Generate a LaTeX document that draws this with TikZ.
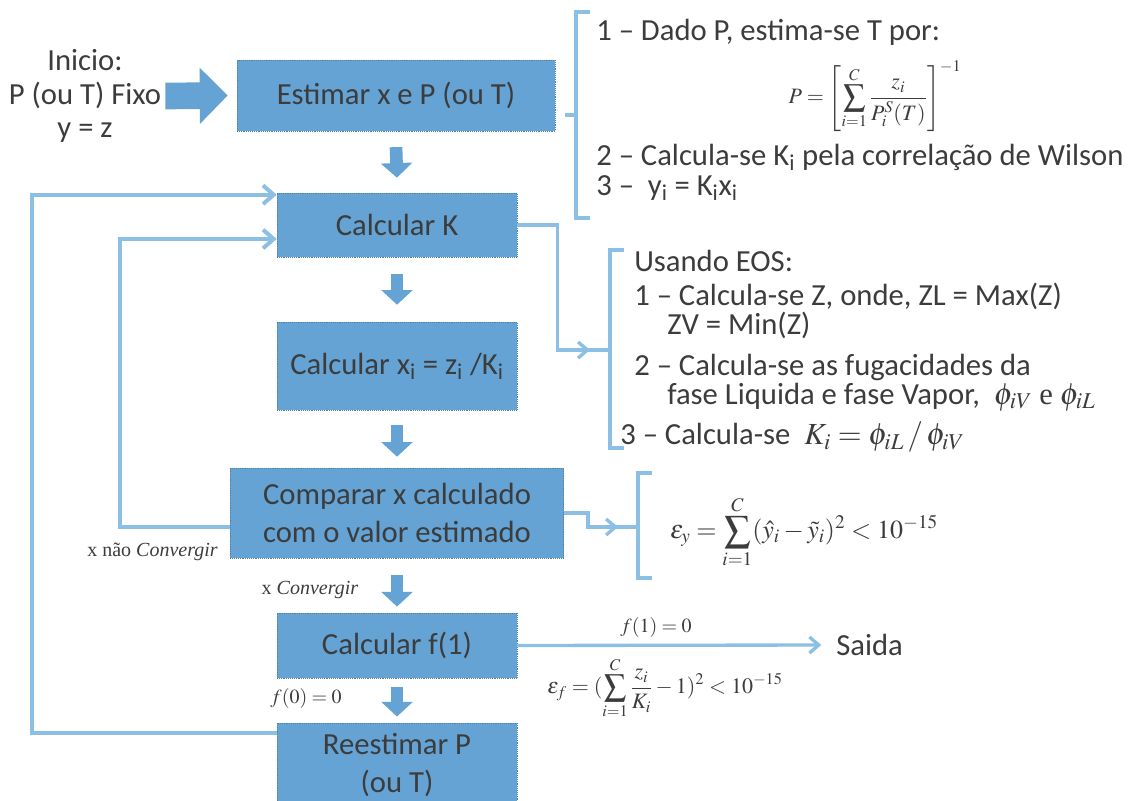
\documentclass[tikz,border=0pt]{standalone}
\usepackage{amsmath, amssymb}
\usepackage{mathptmx}
\usepackage[no-math]{fontspec}
\setmainfont{Carlito}
\newfontfamily\tnr{Liberation Serif}
\usepackage{xcolor}
\usetikzlibrary{arrows.meta,positioning,calc}

\definecolor{boxblue}{HTML}{64A3D3}
\definecolor{lineblue}{HTML}{8BC0E4}
\definecolor{txtgray}{HTML}{3C3C3C}

\tikzset{
  box/.style={rectangle, fill=boxblue, draw=boxblue!80!black, densely dotted, line width=0.4pt,
    text=txtgray, align=center, inner sep=0pt, font=\fontsize{23}{28.5}\selectfont},
  bigarr/.style={draw=boxblue, line width=20pt, -{Triangle[length=21pt,width=41pt]}},
  downarr/.style={draw=boxblue, line width=9.5pt, -{Triangle[length=11pt,width=23pt]}},
  loopline/.style={draw=lineblue, line width=3pt, -{Straight Barb[length=8pt,width=14pt]}},
  lnk/.style={draw=lineblue, line width=2.5pt, -{Straight Barb[length=7pt,width=12pt]}},
  brk/.style={draw=lineblue, line width=2.5pt},
  item/.style={anchor=west, inner sep=0pt},
  note/.style={font=\tnr\fontsize{15}{17}\selectfont, inner sep=0pt}
}

\begin{document}
\begin{tikzpicture}[x=0.75pt, y=-0.75pt, font=\fontsize{23}{25}\selectfont, text=txtgray]
\useasboundingbox (0,0) rectangle (1128,800);

\node[box, minimum width=238.5pt, minimum height=53pt] (est) at (396,95.5) {Estimar x e P (ou T)};
\node[box, minimum width=180pt, minimum height=48pt] (calk) at (397,225) {Calcular K};
\node[box, minimum width=180pt, minimum height=66pt] (calx) at (397,366) {Calcular x\textsubscript{i} = z\textsubscript{i} /K\textsubscript{i}};
\node[box, minimum width=250pt, minimum height=67.5pt] (comp) at (397,513) {Comparar x calculado\\com o valor estimado};
\node[box, minimum width=180pt, minimum height=49pt] (calf) at (397,645.5) {Calcular f(1)};
\node[box, minimum width=180pt, minimum height=64pt] (rees) at (397,765.5) {Reestimar P\\(ou T)};

\node[align=center, inner sep=0pt] (ini) at (85,96) {Inicio:\\P (ou T) Fixo\\y = z};
\draw[bigarr] ([xshift=3pt]ini.east) -- ([xshift=-6.75pt]est.west);

\foreach \a/\b/\s/\e in {est/calk/16/15, calk/calx/17/17, calx/comp/15/11, comp/calf/17/6, calf/rees/9/6}
  \draw[downarr] ($(\a.south)+(0,\s)$) -- ($(\b.north)+(0,-\e)$);

\draw[loopline] ($(rees.north west)+(0,10)$) -- ++(-245,0) |- ($(calk.north west)+(0,2)$);
\draw[loopline] ($(comp.west)+(0,14)$) -- ++(-110,0) |- ($(calk.west)+(0,14)$);

\node[note, anchor=east] (nconv) at (218,552) {x não \textit{Convergir}};
\node[note] (conv) at (310,590) {x \textit{Convergir}};
\node[note] (f0) at (306,698) {$f(0)=0$};

\draw[brk] (590,12) -- (576,12) -- (576,218) -- (590,218) (576,115) -- (565,115);
\node[item] (t11) at (596,32) {1 – Dado P, estima-se T por:};
\node[inner sep=0pt] (t12) at (875,96) {\fontsize{16.5}{19}\selectfont $\displaystyle P=\left[\sum_{i=1}^{C}\frac{z_i}{P_i^S(T)}\right]^{-1}$};
\node[item] (t13) at (596,157) {2 – Calcula-se K\textsubscript{i} pela correlação de Wilson};
\node[item] (t14) at (596,188) {3 –\ \ y\textsubscript{i} = K\textsubscript{i}x\textsubscript{i}};

\coordinate (b2) at (610,350);
\draw[brk] (624,250) -- (610,250) -- (610,448) -- (624,448);
\draw[lnk] (calk.east) -- ++(40,0) |- ($(b2)+(-20,0)$);
\draw[brk] ($(b2)+(-22,0)$) -- (b2);
\node[item] (t21) at (634,261) {Usando EOS:};
\node[item] (t22) at (634,296) {1 – Calcula-se Z, onde, ZL = Max(Z)};
\node[item] (t23) at (667,325) {ZV = Min(Z)};
\node[item] (t24) at (634,367) {2 – Calcula-se as fugacidades da};
\node[item] (t25) at (667,397) {fase Liquida e fase Vapor,\ \ $\phi_{iV}$ {\tnr e} $\phi_{iL}$};
\node[item] (t26) at (620,437) {3 – Calcula-se\ \ $K_i=\phi_{iL}\,/\,\phi_{iV}$};

\coordinate (b3) at (638,527);
\draw[brk] (652,473) -- (638,473) -- (638,578) -- (652,578);
\draw[lnk] (comp.east) -- ++(24,0) |- ($(b3)+(-20,0)$);
\draw[brk] ($(b3)+(-22,0)$) -- (b3);
\node[inner sep=0pt] (ey) at (804,532) {\fontsize{19.5}{23}\selectfont $\displaystyle \varepsilon_y=\sum_{i=1}^{C}(\hat{y}_i-\tilde{y}_i)^2<10^{-15}$};

\node[item] (said) at (836,645) {Saida};
\draw[lnk] (calf.east) -- ([xshift=-11pt]said.west);
\node[note] (f1) at (656,627) {$f(1)=0$};
\node[inner sep=0pt] (ef) at (665,688) {\fontsize{16.5}{19}\selectfont $\displaystyle \varepsilon_f=(\sum_{i=1}^{C}\frac{z_i}{K_i}-1)^2<10^{-15}$};
\end{tikzpicture}
\end{document}
